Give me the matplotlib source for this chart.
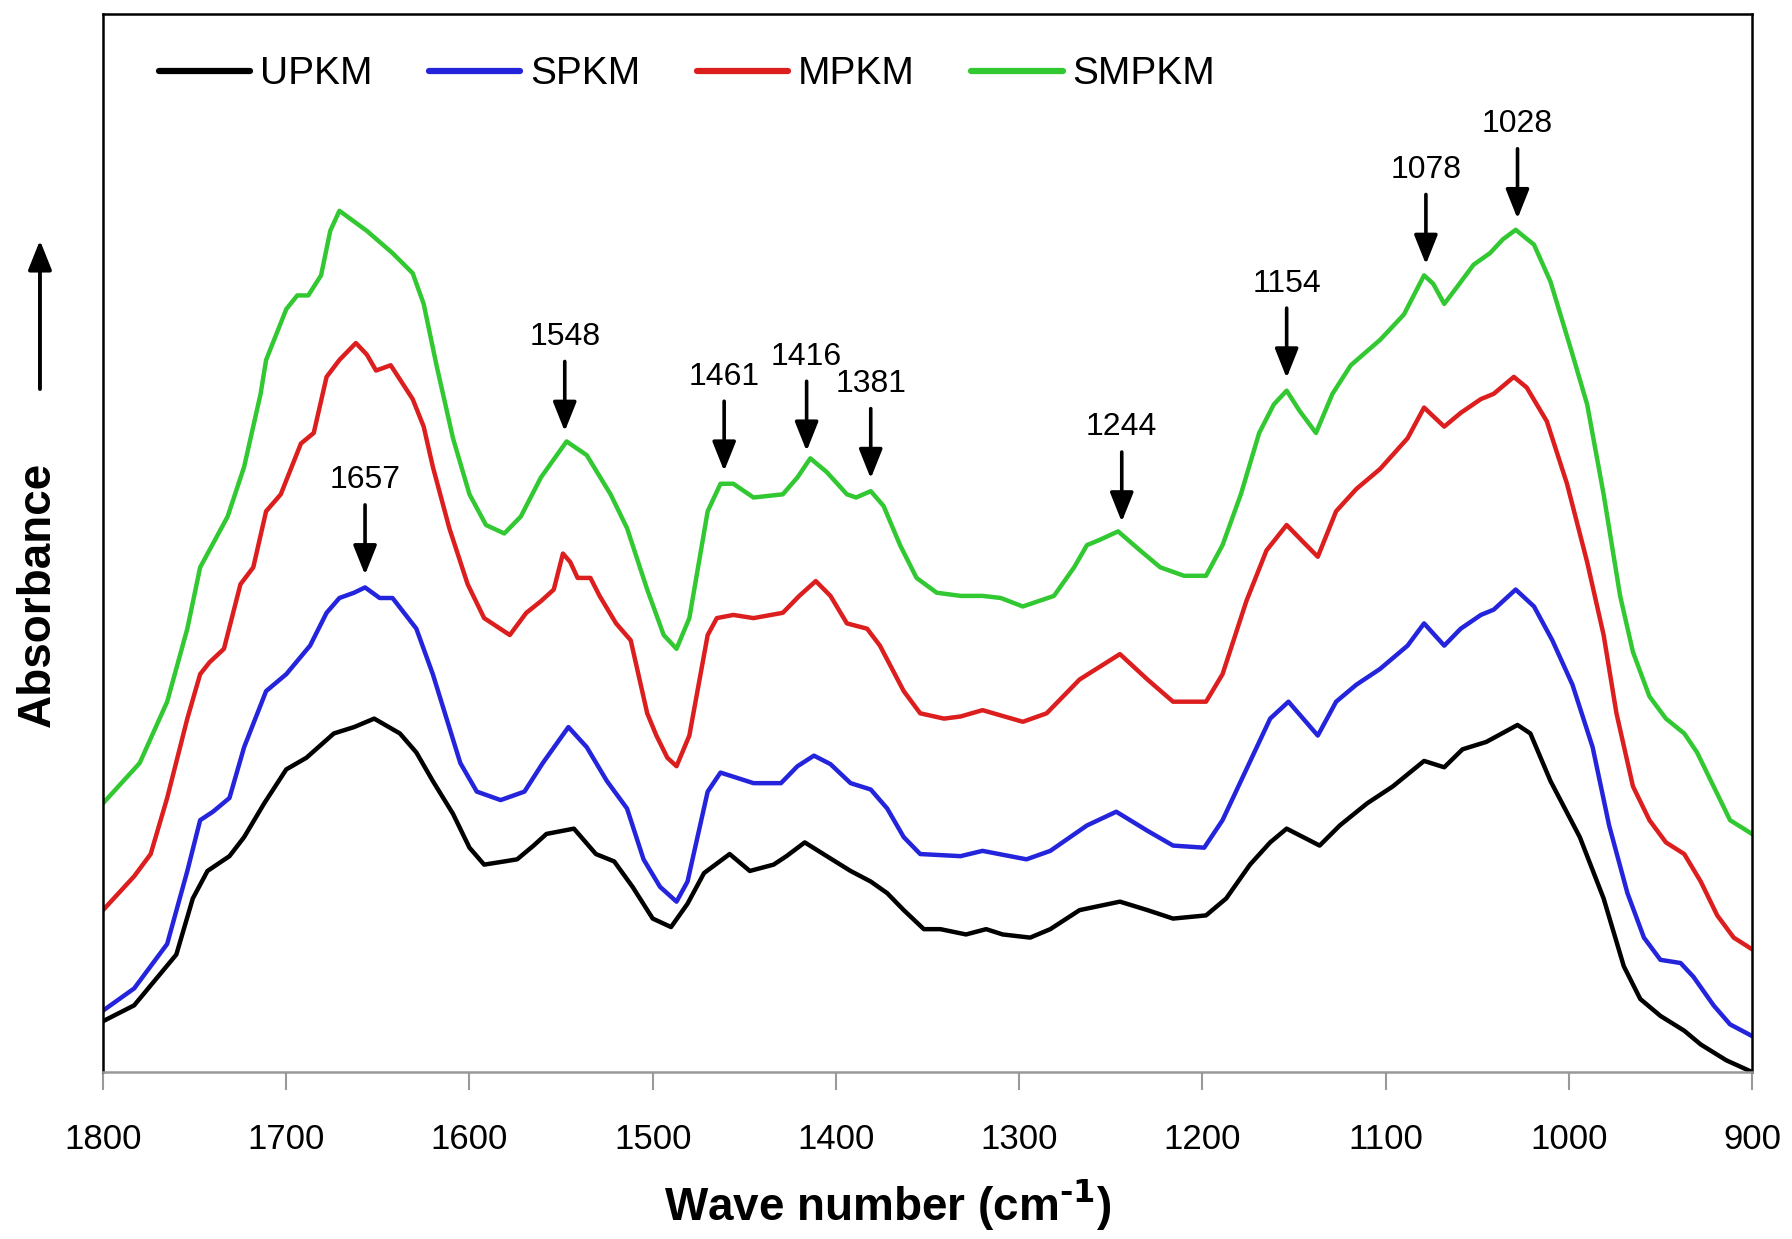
import numpy as np
import matplotlib
matplotlib.use('Agg')
import matplotlib.pyplot as plt

# FTIR spectra (wavenumber cm-1, absorbance in a.u.)
upkm = [(1800, 0.048), (1783, 0.063), (1760, 0.111), (1751, 0.164), (1743, 0.190), (1731, 0.204),
        (1723, 0.222), (1712, 0.254), (1700, 0.286), (1689, 0.297), (1674, 0.320), (1663, 0.326),
        (1652, 0.334), (1638, 0.320), (1629, 0.302), (1620, 0.275), (1609, 0.244), (1600, 0.212),
        (1592, 0.196), (1581, 0.199), (1574, 0.201), (1565, 0.214), (1558, 0.225), (1543, 0.230),
        (1531, 0.206), (1521, 0.199), (1511, 0.175), (1500, 0.145), (1490, 0.137), (1481, 0.159),
        (1472, 0.188), (1458, 0.206), (1447, 0.190), (1434, 0.196), (1427, 0.204), (1417, 0.217),
        (1405, 0.204), (1392, 0.190), (1381, 0.180), (1372, 0.169), (1363, 0.153), (1352, 0.135),
        (1343, 0.135), (1329, 0.130), (1318, 0.135), (1309, 0.130), (1294, 0.127), (1283, 0.135),
        (1267, 0.153), (1245, 0.161), (1230, 0.153), (1216, 0.145), (1198, 0.148), (1187, 0.164),
        (1174, 0.196), (1163, 0.217), (1154, 0.230), (1145, 0.222), (1136, 0.214), (1125, 0.233),
        (1110, 0.254), (1096, 0.270), (1079, 0.294), (1068, 0.288), (1058, 0.305), (1045, 0.312),
        (1028, 0.328), (1021, 0.320), (1010, 0.275), (994, 0.222), (981, 0.164), (970, 0.100),
        (961, 0.069), (950, 0.053), (937, 0.039), (928, 0.026), (914, 0.011), (900, 0.0)]

spkm = [(1800, 0.058), (1783, 0.079), (1765, 0.121), (1754, 0.190), (1747, 0.238), (1740, 0.246),
        (1731, 0.259), (1723, 0.307), (1711, 0.360), (1700, 0.376), (1687, 0.403), (1678, 0.434),
        (1671, 0.448), (1663, 0.453), (1657, 0.458), (1649, 0.448), (1642, 0.448), (1629, 0.419),
        (1620, 0.376), (1605, 0.292), (1596, 0.265), (1583, 0.257), (1570, 0.265), (1560, 0.292),
        (1546, 0.326), (1536, 0.307), (1525, 0.275), (1514, 0.249), (1505, 0.201), (1496, 0.175),
        (1487, 0.161), (1481, 0.180), (1470, 0.265), (1463, 0.283), (1454, 0.278), (1445, 0.273),
        (1430, 0.273), (1421, 0.289), (1412, 0.299), (1403, 0.291), (1392, 0.273), (1381, 0.267),
        (1372, 0.249), (1363, 0.222), (1354, 0.206), (1332, 0.204), (1320, 0.209), (1296, 0.201),
        (1283, 0.209), (1263, 0.233), (1247, 0.246), (1230, 0.228), (1216, 0.214), (1199, 0.212),
        (1189, 0.238), (1176, 0.286), (1163, 0.334), (1153, 0.350), (1145, 0.334), (1137, 0.318),
        (1127, 0.350), (1116, 0.366), (1103, 0.381), (1088, 0.403), (1079, 0.424), (1068, 0.403),
        (1059, 0.419), (1048, 0.432), (1041, 0.437), (1029, 0.456), (1019, 0.440), (1009, 0.408),
        (998, 0.366), (987, 0.307), (978, 0.233), (968, 0.169), (959, 0.127), (950, 0.106),
        (939, 0.103), (932, 0.090), (921, 0.063), (912, 0.045), (900, 0.034)]

mpkm = [(1800, 0.153), (1783, 0.185), (1774, 0.206), (1765, 0.259), (1754, 0.334), (1747, 0.376),
        (1742, 0.387), (1734, 0.400), (1725, 0.461), (1718, 0.477), (1711, 0.530), (1703, 0.546),
        (1692, 0.594), (1685, 0.604), (1678, 0.657), (1671, 0.673), (1662, 0.689), (1656, 0.678),
        (1651, 0.663), (1643, 0.668), (1631, 0.636), (1625, 0.610), (1620, 0.572), (1611, 0.514),
        (1601, 0.461), (1592, 0.429), (1578, 0.413), (1569, 0.434), (1561, 0.445), (1554, 0.456),
        (1549, 0.490), (1545, 0.482), (1541, 0.467), (1534, 0.467), (1529, 0.450), (1520, 0.424),
        (1512, 0.408), (1503, 0.339), (1498, 0.318), (1492, 0.297), (1487, 0.289), (1480, 0.318),
        (1470, 0.413), (1465, 0.429), (1456, 0.432), (1445, 0.429), (1429, 0.434), (1420, 0.450),
        (1411, 0.464), (1403, 0.450), (1394, 0.424), (1383, 0.419), (1376, 0.403), (1363, 0.360),
        (1354, 0.339), (1341, 0.334), (1332, 0.336), (1320, 0.342), (1298, 0.331), (1285, 0.339),
        (1267, 0.371), (1245, 0.395), (1230, 0.371), (1216, 0.350), (1198, 0.350), (1189, 0.376),
        (1176, 0.445), (1165, 0.493), (1154, 0.517), (1145, 0.501), (1137, 0.487), (1127, 0.530),
        (1116, 0.551), (1103, 0.570), (1088, 0.599), (1079, 0.628), (1068, 0.610), (1059, 0.623),
        (1048, 0.636), (1041, 0.641), (1030, 0.657), (1023, 0.647), (1012, 0.615), (1001, 0.556),
        (990, 0.482), (981, 0.413), (974, 0.339), (965, 0.270), (956, 0.238), (947, 0.217),
        (937, 0.206), (928, 0.180), (919, 0.148), (910, 0.127), (900, 0.116)]

smpkm = [(1800, 0.254), (1780, 0.292), (1765, 0.350), (1754, 0.419), (1747, 0.477), (1742, 0.493),
         (1732, 0.525), (1723, 0.572), (1714, 0.641), (1711, 0.673), (1700, 0.721), (1694, 0.734),
         (1688, 0.734), (1681, 0.753), (1676, 0.795), (1671, 0.814), (1656, 0.795), (1642, 0.774),
         (1631, 0.755), (1625, 0.726), (1618, 0.668), (1609, 0.599), (1600, 0.546), (1591, 0.517),
         (1581, 0.509), (1572, 0.525), (1561, 0.562), (1547, 0.596), (1536, 0.583), (1523, 0.546),
         (1514, 0.514), (1503, 0.456), (1494, 0.413), (1487, 0.400), (1480, 0.429), (1470, 0.530),
         (1463, 0.556), (1456, 0.556), (1445, 0.543), (1429, 0.546), (1421, 0.562), (1414, 0.580),
         (1405, 0.567), (1394, 0.546), (1389, 0.543), (1381, 0.549), (1374, 0.535), (1365, 0.498),
         (1356, 0.467), (1345, 0.453), (1332, 0.450), (1320, 0.450), (1310, 0.448), (1298, 0.440),
         (1281, 0.450), (1270, 0.477), (1263, 0.498), (1256, 0.503), (1246, 0.511), (1234, 0.493),
         (1223, 0.477), (1210, 0.469), (1198, 0.469), (1189, 0.498), (1179, 0.546), (1169, 0.604),
         (1161, 0.631), (1154, 0.644), (1147, 0.625), (1138, 0.604), (1129, 0.641), (1119, 0.668),
         (1103, 0.692), (1090, 0.716), (1079, 0.753), (1074, 0.745), (1068, 0.726), (1061, 0.742),
         (1052, 0.763), (1043, 0.774), (1036, 0.787), (1029, 0.796), (1019, 0.782), (1010, 0.747),
         (999, 0.684), (990, 0.631), (981, 0.546), (972, 0.450), (965, 0.397), (956, 0.355),
         (947, 0.334), (937, 0.320), (930, 0.302), (921, 0.270), (912, 0.238), (900, 0.225)]

series_names = ['UPKM', 'SPKM', 'MPKM', 'SMPKM']
series_colors = ['#000000', '#2424dc', '#dc1e1e', '#32c832']

# marked bands and which spectrum the arrow points at
peak_positions = [1657, 1548, 1461, 1416, 1381, 1244, 1154, 1078, 1028]
peak_series = ['SPKM', 'SMPKM', 'SMPKM', 'SMPKM', 'SMPKM', 'SMPKM', 'SMPKM', 'SMPKM', 'SMPKM']

x_ticks = [1800, 1700, 1600, 1500, 1400, 1300, 1200, 1100, 1000, 900]

plt.rcParams['font.family'] = ['Liberation Sans', 'DejaVu Sans']

fig = plt.figure(figsize=(17.92, 12.39), dpi=100, facecolor='white')
ax = fig.add_axes([0.0575, 0.1348, 0.9202, 0.8539])

spectra = {}
for name, data, color in zip(series_names, [upkm, spkm, mpkm, smpkm], series_colors):
    arr = np.array(data, dtype=float)
    spectra[name] = arr
    ax.plot(arr[:, 0], arr[:, 1], color=color, lw=3.2, label=name,
            solid_joinstyle='round', solid_capstyle='round')

# arrows + band labels
for pos, name in zip(peak_positions, peak_series):
    arr = spectra[name]
    y_curve = np.interp(pos, arr[::-1, 0], arr[::-1, 1])
    tip = y_curve + 0.012
    tail = tip + 0.066
    ax.annotate('', xy=(pos, tip), xytext=(pos, tail),
                arrowprops=dict(arrowstyle='-|>,head_length=0.9,head_width=0.36',
                                lw=2.6, color='black', shrinkA=0, shrinkB=0,
                                mutation_scale=20))
    ax.text(pos, tail + 0.009, str(pos), ha='center', va='bottom', fontsize=23)

ax.set_xlim(1800, 900)
ax.set_ylim(0, 1.0)
ax.set_xticks(x_ticks)
ax.set_xticklabels([str(t) for t in x_ticks], fontsize=25)
ax.set_yticks([])
ax.tick_params(axis='x', direction='out', length=13, width=1.5, color='#999999', pad=24)

for side in ['left', 'top', 'right']:
    ax.spines[side].set_linewidth(1.8)
    ax.spines[side].set_color('black')
ax.spines['bottom'].set_linewidth(1.8)
ax.spines['bottom'].set_color('#999999')

leg = ax.legend(loc='center left', bbox_to_anchor=(0.034, 0.943), ncol=4, frameon=False,
                fontsize=28, handlelength=2.35, handletextpad=0.25, columnspacing=1.45,
                borderpad=0, borderaxespad=0)
for line in leg.get_lines():
    line.set_linewidth(4.5)

fig.text(0.4955, 0.027, 'Wave number (cm$^{\\mathbf{\u20101}}$)', ha='center', va='center',
         fontsize=33, fontweight='bold')
fig.text(0.021, 0.52, 'Absorbance', ha='center', va='center', rotation=90,
         fontsize=33, fontweight='bold')
ax.annotate('', xy=(0.0223, 0.806), xytext=(0.0223, 0.686), xycoords='figure fraction',
            textcoords='figure fraction',
            arrowprops=dict(arrowstyle='-|>,head_length=0.9,head_width=0.36', lw=2.8,
                            color='black', shrinkA=0, shrinkB=0, mutation_scale=20))

fig.savefig('out.png', dpi=100, facecolor='white')
